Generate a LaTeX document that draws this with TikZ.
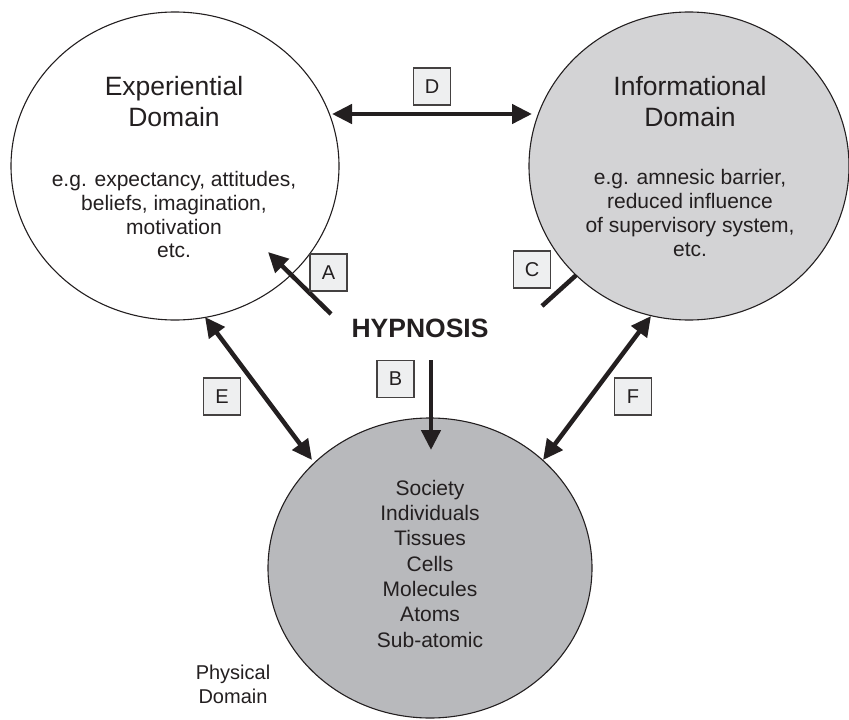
\documentclass[tikz,border=0pt]{standalone}
\usepackage{fontspec}
\setmainfont{Liberation Sans}
\usetikzlibrary{arrows.meta,shapes.geometric}

\definecolor{ink}{HTML}{231F20}
\definecolor{infofill}{HTML}{D3D3D5}
\definecolor{physfill}{HTML}{B8B9BC}
\definecolor{tagfill}{HTML}{EEEFF0}

\tikzset{
  domainshape/.style={ellipse, draw=ink, line width=1.1pt, inner sep=0pt},
  titletext/.style={font=\fontsize{26.5}{30}\selectfont, text=ink, anchor=base, inner sep=0pt},
  bodytext/.style={font=\fontsize{21}{24}\selectfont, text=ink, anchor=base, inner sep=0pt},
  smalltext/.style={font=\fontsize{20}{24}\selectfont, text=ink, anchor=base, inner sep=0pt},
  tagbox/.style={draw=ink!85, fill=tagfill, line width=1.1pt, minimum width=37pt,
    minimum height=37pt, inner sep=0pt, font=\fontsize{20}{24}\selectfont, text=ink},
  arrowone/.style={draw=ink, line width=4.5pt, -{Triangle[length=20pt,width=19pt]}},
  arrowtwo/.style={draw=ink, line width=4.5pt, {Triangle[length=20pt,width=19pt]}-{Triangle[length=20pt,width=19pt]}},
}

\begin{document}
\begin{tikzpicture}[x=1pt, y=-1pt]
  \useasboundingbox (0,0) rectangle (849,720);

  % the three domains (informational one comes after arrow C so it hides its tip)
  \node[domainshape, fill=white, minimum width=328pt, minimum height=308pt] (exp) at (175,166) {};
  \node[domainshape, fill=physfill, minimum width=324pt, minimum height=300pt] (phy) at (430,568) {};

  % arrow C runs under the informational domain
  \coordinate (c0) at (542,306);
  \coordinate (c1) at (604,250);
  \draw[arrowone] (c0) -- (c1);

  \node[domainshape, fill=infofill, minimum width=320pt, minimum height=308pt] (inf) at (689,166) {};

  % experiential text
  \node[titletext] (expT1) at (174,95) {Experiential};
  \node[titletext] (expT2) at (174,126) {Domain};
  \foreach \t [count=\i] in {{e.g. expectancy, attitudes,},{beliefs, imagination,},{motivation},{etc.}}
    \node[bodytext] (expB\i) at (174,163+23.7*\i) {\t};

  % informational text
  \node[titletext] (infT1) at (690,95) {Informational};
  \node[titletext] (infT2) at (690,126) {Domain};
  \foreach \t [count=\i] in {{e.g. amnesic barrier,},{reduced influence},{of supervisory system,},{etc.}}
    \node[bodytext] (infB\i) at (690,160+24*\i) {\t};

  % physical text
  \foreach \t [count=\i] in {Society,Individuals,Tissues,Cells,Molecules,Atoms,Sub-atomic}
    \node[bodytext] (phyB\i) at (430,470+25.3*\i) {\t};
  \node[smalltext] (phyT1) at (233,679) {Physical};
  \node[smalltext] (phyT2) at (233,703) {Domain};

  % centre label
  \node[font=\fontsize{26.5}{30}\selectfont\bfseries, text=ink, anchor=base, inner sep=0pt] (hyp) at (420,337) {HYPNOSIS};

  % connectors
  \coordinate (a0) at (331,314);
  \coordinate (a1) at (268,252);
  \coordinate (b0) at (431,360);
  \coordinate (b1) at (431,450);
  \coordinate (d0) at (332,114);
  \coordinate (d1) at (532,114);
  \coordinate (e0) at (205,317);
  \coordinate (e1) at (312,460);
  \coordinate (f0) at (651,316);
  \coordinate (f1) at (543,460);
  \draw[arrowone] (a0) -- (a1);
  \draw[arrowone] (b0) -- (b1);
  \draw[arrowtwo] (d0) -- (d1);
  \draw[arrowtwo] (e0) -- (e1);
  \draw[arrowtwo] (f0) -- (f1);

  % letter tags
  \node[tagbox] (tA) at (328.5,272.5) {A};
  \node[tagbox] (tB) at (395.5,379) {B};
  \node[tagbox] (tC) at (532,269.5) {C};
  \node[tagbox] (tD) at (432,86.5) {D};
  \node[tagbox] (tE) at (222,396.5) {E};
  \node[tagbox] (tF) at (633,396.5) {F};
\end{tikzpicture}
\end{document}
